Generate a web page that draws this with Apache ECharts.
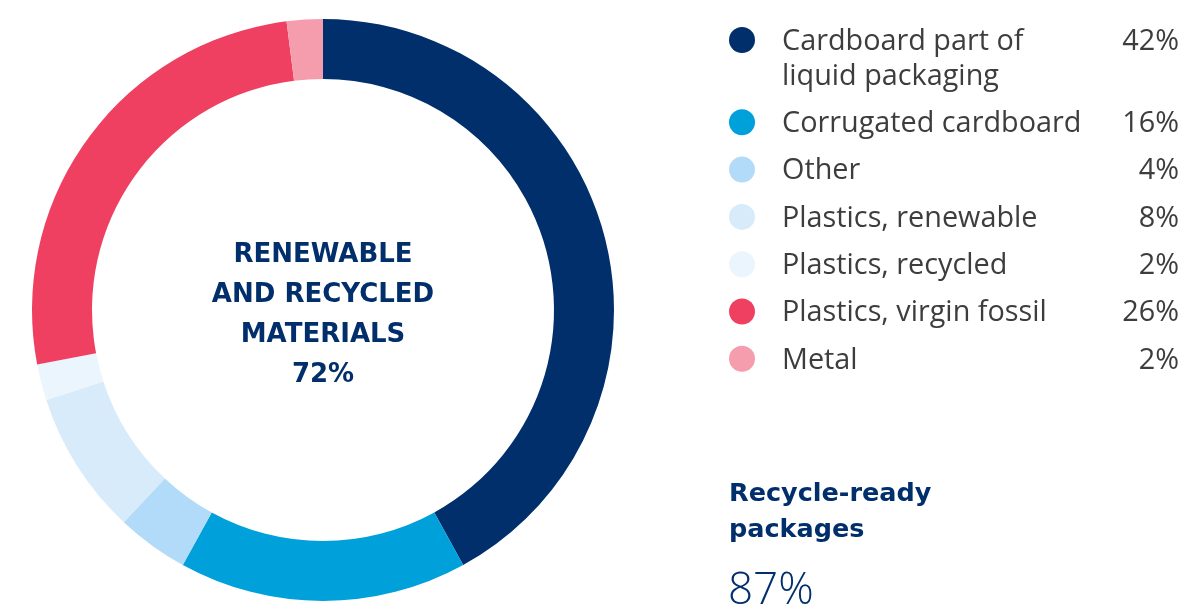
<!DOCTYPE html>
<html>
<head>
<meta charset="utf-8">
<script src="https://cdn.jsdelivr.net/npm/echarts@6/dist/echarts.min.js"></script>
<style>
  html, body { margin: 0; padding: 0; background: #ffffff; }
  #chart { width: 1182px; height: 608px; }
</style>
</head>
<body>
<div id="chart"></div>
<script>
// Packaging material composition (share of total, %)
const categories = [
  'Cardboard part of\nliquid packaging',
  'Corrugated cardboard',
  'Other',
  'Plastics, renewable',
  'Plastics, recycled',
  'Plastics, virgin fossil',
  'Metal'
];
const shares = [42, 16, 4, 8, 2, 26, 2];
const colors = ['#002F6C', '#00A0DB', '#B1DBF8', '#D7EBFA', '#EBF5FD', '#EF4061', '#F59DAD'];

const centerLabel = ['RENEWABLE', 'AND RECYCLED', 'MATERIALS', '72%'];
const sideTitle = ['Recycle-ready', 'packages'];
const sideValue = '87%';

const NAVY = '#002F6C';
const GREY = '#3D3D3D';
const FONT = '"Open Sans", sans-serif';
const BOLD_FONT = '"DejaVu Sans", sans-serif';

const chart = echarts.init(document.getElementById('chart'), null, { renderer: 'canvas' });

// Legend rows: circle swatch, name, right-aligned percentage
const legendGraphics = [];
let extra = 0;
categories.forEach((name, i) => {
  const y = 40 + i * 47.3 + extra;
  const lines = name.split('\n');
  legendGraphics.push({
    type: 'circle',
    shape: { cx: 742, cy: y, r: 13 },
    style: { fill: colors[i] },
    silent: true
  });
  legendGraphics.push({
    type: 'text',
    x: 782, y: y - 16,
    style: {
      text: name,
      font: '400 28.8px ' + FONT,
      fill: GREY,
      lineHeight: 35,
      textAlign: 'left',
      textVerticalAlign: 'top'
    },
    silent: true
  });
  legendGraphics.push({
    type: 'text',
    x: 1179, y: y + 1.5,
    style: {
      text: shares[i] + '%',
      font: '400 28.8px ' + FONT,
      fill: GREY,
      textAlign: 'right',
      textVerticalAlign: 'middle'
    },
    silent: true
  });
  extra += (lines.length - 1) * 35;
});

chart.setOption({
  backgroundColor: '#ffffff',
  animation: false,
  series: [{
    type: 'pie',
    center: [323, 310],
    radius: [231, 291],
    startAngle: 90,
    clockwise: true,
    label: { show: false },
    labelLine: { show: false },
    emphasis: { disabled: true },
    itemStyle: { borderWidth: 0 },
    data: categories.map((c, i) => ({
      name: c,
      value: shares[i],
      itemStyle: { color: colors[i] }
    }))
  }],
  graphic: [
    {
      type: 'text',
      x: 323, y: 315,
      style: {
        text: centerLabel.join('\n'),
        font: '700 26px ' + BOLD_FONT,
        fill: NAVY,
        lineHeight: 40,
        textAlign: 'center',
        textVerticalAlign: 'middle'
      },
      silent: true
    },
    {
      type: 'text',
      x: 729, y: 476,
      style: {
        text: sideTitle.join('\n'),
        font: '700 25.5px ' + BOLD_FONT,
        fill: NAVY,
        lineHeight: 36,
        textAlign: 'left',
        textVerticalAlign: 'top'
      },
      silent: true
    },
    {
      type: 'text',
      x: 728, y: 591,
      style: {
        text: sideValue,
        font: '300 44px ' + FONT,
        fill: NAVY,
        textAlign: 'left',
        textVerticalAlign: 'middle'
      },
      silent: true
    }
  ].concat(legendGraphics)
});
</script>
</body>
</html>
